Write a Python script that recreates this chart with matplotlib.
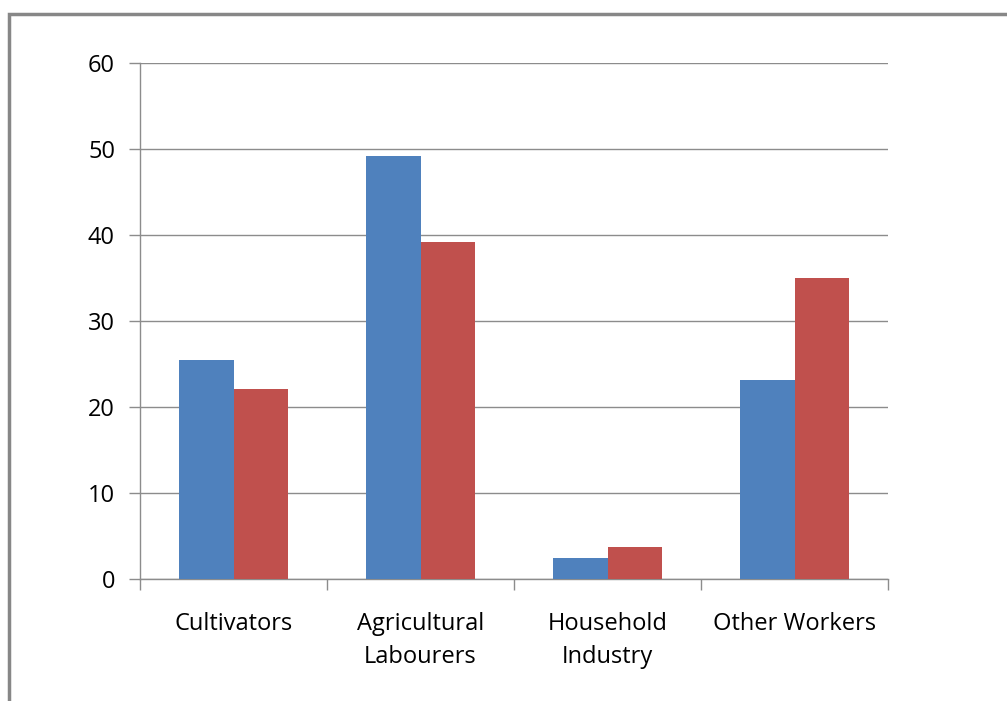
import matplotlib
matplotlib.use("Agg")
import matplotlib.pyplot as plt
import numpy as np
from matplotlib.patches import Rectangle

categorias = ["Cultivators", "Agricultural\nLabourers", "Household\nIndustry", "Other Workers"]
serie1 = [25.5, 49.2, 2.4, 23.1]
serie2 = [22.1, 39.2, 3.7, 35.0]
yticks = [0, 10, 20, 30, 40, 50, 60]

plt.rcParams['font.family'] = ['Open Sans', 'DejaVu Sans']

fig = plt.figure(figsize=(10.07, 7.01), dpi=100)
ax = fig.add_axes([140/1007, 122/701, 748/1007, 516/701])

x = np.arange(len(categorias))
ancho = 0.29
ax.bar(x - ancho/2, serie1, ancho, color="#4F81BD", zorder=3)
ax.bar(x + ancho/2, serie2, ancho, color="#C0504D", zorder=3)

ax.set_xlim(-0.5, len(categorias) - 0.5)
ax.set_ylim(0, 60)
ax.set_yticks(yticks)
ax.set_yticklabels([str(v) for v in yticks], fontsize=17)
ax.yaxis.grid(True, color="#8C8C8C", linewidth=1)
ax.set_axisbelow(True)

# ticks del eje x en los bordes de cada categoria, etiquetas en el centro
ax.set_xticks(np.arange(len(categorias) + 1) - 0.5)
ax.set_xticklabels([])
ax.set_xticks(x, minor=True)
ax.set_xticklabels(categorias, minor=True, fontsize=17, linespacing=1.5)
ax.tick_params(axis='x', which='minor', length=0, pad=24)
ax.tick_params(axis='x', which='major', length=8, color="#8C8C8C", width=1, direction='out')
ax.tick_params(axis='y', length=8, color="#8C8C8C", width=1, pad=10)

for lado in ['top', 'right']:
    ax.spines[lado].set_visible(False)
for lado in ['left', 'bottom']:
    ax.spines[lado].set_color("#8C8C8C")
    ax.spines[lado].set_linewidth(1)

# marco gris de la figura
fig.patches.append(Rectangle((9/1007, -0.1), 1.2, (701 - 14)/701 + 0.1, transform=fig.transFigure,
                             fill=False, edgecolor="#878787", linewidth=2.5))

plt.savefig("out.png", dpi=100)
